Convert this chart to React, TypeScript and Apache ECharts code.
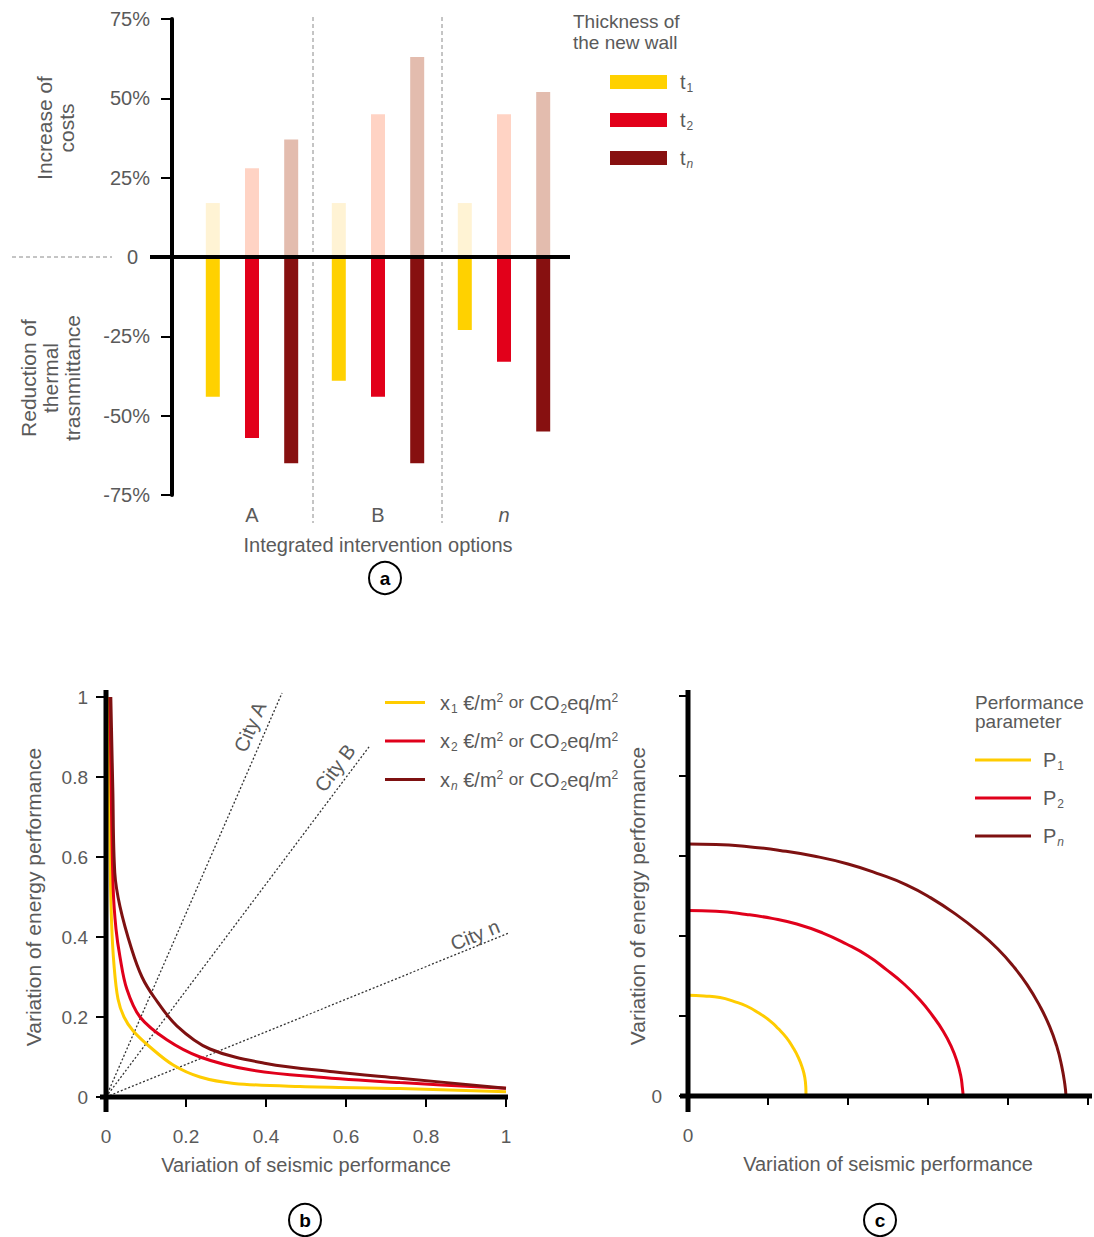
import React, { useEffect, useRef } from "react";
import * as echarts from "echarts";

// ---------- Panel a data ----------
const interventionOptions = ["A", "B", "n"];
const costT1 = [17, 17, 17];
const costT2 = [28, 45, 45];
const costTn = [37, 63, 52];
const transT1 = [-44, -39, -23];
const transT2 = [-57, -44, -33];
const transTn = [-65, -65, -55];
const pctTicks = [-75, -50, -25, 0, 25, 50, 75];

// ---------- Panel b data ----------
const curveX1 = [
  [0.006, 1], [0.008, 0.8], [0.01, 0.6], [0.014, 0.435], [0.02, 0.33], [0.03, 0.245],
  [0.045, 0.2], [0.068, 0.165], [0.11, 0.125], [0.168, 0.08], [0.235, 0.05],
  [0.32, 0.034], [0.485, 0.026], [0.735, 0.021], [1, 0.013],
];
const curveX2 = [
  [0.01, 1], [0.013, 0.77], [0.018, 0.52], [0.025, 0.42], [0.035, 0.35], [0.052, 0.27],
  [0.085, 0.2], [0.152, 0.143], [0.235, 0.1], [0.36, 0.068], [0.527, 0.05],
  [0.735, 0.036], [1, 0.022],
];
const curveXn = [
  [0.012, 1], [0.017, 0.77], [0.022, 0.56], [0.035, 0.476], [0.064, 0.37], [0.09, 0.3],
  [0.12, 0.25], [0.177, 0.178], [0.26, 0.12], [0.4, 0.084], [0.568, 0.063],
  [0.735, 0.047], [1, 0.022],
];
const cityA = [[0, 0], [0.44, 1.01]];
const cityB = [[0, 0], [0.658, 0.876]];
const cityN = [[0, 0], [1.014, 0.413]];
const cityLabelAnchors = [[0.36, 0.925], [0.5725, 0.8225], [0.9225, 0.405]];
const cityNames = ["City A", "City B", "City n"];

// ---------- Panel c data ----------
const perfP1 = [
  [0, 1.26], [0.2, 1.25], [0.4, 1.23], [0.58, 1.18], [0.73, 1.125], [0.88, 1.04],
  [1.025, 0.94], [1.13, 0.84], [1.23, 0.73], [1.31, 0.61], [1.38, 0.48], [1.43, 0.35],
  [1.46, 0.23], [1.473, 0.1], [1.475, 0],
];
const perfP2 = [
  [0, 2.32], [0.35, 2.31], [0.73, 2.27], [1.05, 2.22], [1.36, 2.15], [1.68, 2.04],
  [1.98, 1.9], [2.25, 1.75], [2.48, 1.58], [2.7, 1.4], [2.9, 1.2], [3.06, 1.0],
  [3.19, 0.81], [3.29, 0.62], [3.36, 0.44], [3.41, 0.25], [3.43, 0.1], [3.44, 0],
];
const perfPn = [
  [0, 3.15], [0.35, 3.145], [0.73, 3.12], [1.15, 3.07], [1.57, 3.0], [2.0, 2.9],
  [2.4, 2.77], [2.73, 2.64], [3.03, 2.48], [3.35, 2.27], [3.65, 2.04], [3.87, 1.84],
  [4.06, 1.63], [4.24, 1.39], [4.4, 1.12], [4.52, 0.87], [4.61, 0.62], [4.67, 0.38],
  [4.71, 0.15], [4.725, 0],
];

const FONT = "'Liberation Sans', Arial, Helvetica, sans-serif";
const GRAY = "#5a5a5a";
const YEL = "#FFD100";
const RED = "#E2001A";
const DARK = "#871010";
const YEL_L = "#FFF3D4";
const RED_L = "#FFD3C4";
const DARK_L = "#E3BCAE";

const subRich = {
  s: { fontSize: 12, padding: [12, 0, 0, 1], color: GRAY, fontFamily: FONT },
  si: { fontSize: 12, padding: [12, 0, 0, 1], color: GRAY, fontStyle: "italic", fontFamily: FONT },
  u: { fontSize: 12, padding: [0, 0, 9, 0], color: GRAY, fontFamily: FONT },
  o: { fontSize: 17, color: GRAY, fontFamily: FONT },
  i: { fontStyle: "italic", fontSize: 20, color: GRAY, fontFamily: FONT },
  z: { fontSize: 20, color: GRAY, fontFamily: FONT, padding: [0, 12, 0, 0] },
  g7: { width: 7 },
  g8: { width: 8 },
  g10: { width: 10 },
};

const legendALabel: Record<string, string> = {
  t1: "{g8|}t{s|1}",
  t2: "{g8|}t{s|2}",
  tn: "{g8|}t{si|n}",
};
const legendBLabel: Record<string, string> = {
  x1: "{g10|}x{s|1} €/m{u|2} {o|or} CO{s|2}eq/m{u|2}",
  x2: "{g10|}x{s|2} €/m{u|2} {o|or} CO{s|2}eq/m{u|2}",
  xn: "{g10|}x{si|n} €/m{u|2} {o|or} CO{s|2}eq/m{u|2}",
};
const legendCLabel: Record<string, string> = {
  P1: "{g7|}P{s|1}",
  P2: "{g7|}P{s|2}",
  Pn: "{g7|}P{si|n}",
};

function buildOption(): any {
  const barCommon = {
    type: "bar",
    xAxisIndex: 0,
    yAxisIndex: 0,
    barWidth: 14,
    barGap: "180%",
  };
  const lineB = (name: string, data: number[][], color: string) => ({
    type: "line",
    name,
    xAxisIndex: 1,
    yAxisIndex: 1,
    data,
    showSymbol: false,
    smooth: 0.35,
    color,
    lineStyle: { color, width: 3 },
    itemStyle: { color },
    z: 5,
  });
  const cityLine = (name: string, data: number[][]) => ({
    type: "line",
    name,
    xAxisIndex: 1,
    yAxisIndex: 1,
    data,
    showSymbol: false,
    clip: false,
    silent: true,
    lineStyle: { color: "#333", width: 1.3, type: [2, 2] },
    z: 3,
  });
  const lineC = (name: string, data: number[][], color: string) => ({
    type: "line",
    name,
    xAxisIndex: 2,
    yAxisIndex: 2,
    data,
    showSymbol: false,
    smooth: 0.5,
    color,
    lineStyle: { color, width: 3 },
    itemStyle: { color },
  });

  return {
    animation: false,
    textStyle: { fontFamily: FONT },
    grid: [
      { left: 189, top: 19, width: 378, height: 476 },
      { left: 106, top: 697, width: 400, height: 400 },
      { left: 688, top: 696, width: 400, height: 400 },
    ],
    xAxis: [
      {
        type: "category",
        gridIndex: 0,
        data: interventionOptions,
        axisLine: { show: false },
        axisTick: { show: false },
        axisLabel: {
          fontSize: 20,
          color: GRAY,
          margin: 10,
          formatter: (v: string) => (v === "n" ? "{i|n}" : v),
          rich: subRich,
        },
        name: "Integrated intervention options",
        nameLocation: "middle",
        nameGap: 40,
        nameTextStyle: { fontSize: 20, color: GRAY },
        splitLine: { show: false },
      },
      {
        type: "value",
        gridIndex: 1,
        min: 0,
        max: 1,
        interval: 0.2,
        axisLine: { show: false },
        axisTick: { show: true, length: 10, lineStyle: { color: "#000", width: 2 } },
        axisLabel: {
          fontSize: 19,
          color: GRAY,
          margin: 30,
          formatter: (v: number) => String(Math.round(v * 10) / 10),
        },
        splitLine: { show: false },
        name: "Variation of seismic performance",
        nameLocation: "middle",
        nameGap: 58,
        nameTextStyle: { fontSize: 20, color: GRAY },
      },
      {
        type: "value",
        gridIndex: 2,
        min: 0,
        max: 5,
        interval: 1,
        axisLine: { show: false },
        axisTick: { show: true, length: 9, lineStyle: { color: "#000", width: 2 } },
        axisLabel: {
          fontSize: 19,
          color: GRAY,
          margin: 30,
          formatter: (v: number) => (v === 0 ? "0" : ""),
        },
        splitLine: { show: false },
        name: "Variation of seismic performance",
        nameLocation: "middle",
        nameGap: 58,
        nameTextStyle: { fontSize: 20, color: GRAY },
      },
    ],
    yAxis: [
      {
        type: "value",
        gridIndex: 0,
        min: -75,
        max: 75,
        interval: 25,
        offset: 17,
        axisLine: { show: true, onZero: false, lineStyle: { color: "#000", width: 4 } },
        axisTick: { show: true, length: 11, lineStyle: { color: "#000", width: 2 } },
        axisLabel: {
          fontSize: 20,
          color: GRAY,
          margin: 22,
          rich: subRich,
          formatter: (v: number) => (pctTicks.includes(v) ? (v === 0 ? "{z|0}" : v + "%") : ""),
        },
        splitLine: { show: false },
      },
      {
        type: "value",
        gridIndex: 1,
        min: 0,
        max: 1,
        interval: 0.2,
        axisLine: { show: false },
        axisTick: { show: true, length: 10, lineStyle: { color: "#000", width: 2 } },
        axisLabel: {
          fontSize: 19,
          color: GRAY,
          margin: 18,
          formatter: (v: number) => String(Math.round(v * 10) / 10),
        },
        splitLine: { show: false },
        name: "Variation of energy performance",
        nameLocation: "middle",
        nameGap: 62,
        nameTextStyle: { fontSize: 21, color: GRAY },
      },
      {
        type: "value",
        gridIndex: 2,
        min: 0,
        max: 5,
        interval: 1,
        axisLine: { show: false },
        axisTick: { show: true, length: 9, lineStyle: { color: "#000", width: 2 } },
        axisLabel: {
          fontSize: 19,
          color: GRAY,
          margin: 26,
          formatter: (v: number) => (v === 0 ? "0" : ""),
        },
        splitLine: { show: false },
        name: "Variation of energy performance",
        nameLocation: "middle",
        nameGap: 28,
        nameTextStyle: { fontSize: 21, color: GRAY },
      },
    ],
    legend: [
      {
        data: ["t1", "t2", "tn"],
        orient: "vertical",
        left: 610,
        top: 72,
        padding: 0,
        icon: "rect",
        itemWidth: 57,
        itemHeight: 14,
        itemGap: 16,
        selectedMode: false,
        formatter: (n: string) => legendALabel[n],
        textStyle: { fontSize: 20, color: GRAY, rich: subRich },
      },
      {
        data: ["x1", "x2", "xn"],
        orient: "vertical",
        left: 385,
        top: 692,
        padding: 0,
        icon: "rect",
        itemWidth: 40,
        itemHeight: 3,
        itemGap: 16,
        selectedMode: false,
        formatter: (n: string) => legendBLabel[n],
        textStyle: { fontSize: 20, color: GRAY, rich: subRich },
      },
      {
        data: ["P1", "P2", "Pn"],
        orient: "vertical",
        left: 975,
        top: 750,
        padding: 0,
        icon: "rect",
        itemWidth: 56,
        itemHeight: 3,
        itemGap: 16,
        selectedMode: false,
        formatter: (n: string) => legendCLabel[n],
        textStyle: { fontSize: 20, color: GRAY, rich: subRich },
      },
    ],
    series: [
      { ...barCommon, name: "t1", stack: "s1", data: transT1, itemStyle: { color: YEL } },
      { ...barCommon, name: "t1 cost", stack: "s1", data: costT1, itemStyle: { color: YEL_L } },
      { ...barCommon, name: "t2", stack: "s2", data: transT2, itemStyle: { color: RED } },
      { ...barCommon, name: "t2 cost", stack: "s2", data: costT2, itemStyle: { color: RED_L } },
      { ...barCommon, name: "tn", stack: "s3", data: transTn, itemStyle: { color: DARK } },
      { ...barCommon, name: "tn cost", stack: "s3", data: costTn, itemStyle: { color: DARK_L } },
      cityLine("City A", cityA),
      cityLine("City B", cityB),
      cityLine("City n", cityN),
      lineB("x1", curveX1, "#FFCC00"),
      lineB("x2", curveX2, "#E0001B"),
      lineB("xn", curveXn, "#7E1111"),
      lineC("P1", perfP1, "#FFCC00"),
      lineC("P2", perfP2, "#E0001B"),
      lineC("Pn", perfPn, "#7E1111"),
    ],
  };
}

function circleLabel(cx: number, cy: number, letter: string) {
  return [
    {
      type: "circle",
      shape: { cx, cy, r: 16 },
      style: { fill: "#fff", stroke: "#000", lineWidth: 2 },
      z: 100,
    },
    {
      type: "text",
      x: cx,
      y: cy,
      style: {
        text: letter,
        fill: "#000",
        font: `bold 19px ${FONT}`,
        align: "center",
        verticalAlign: "middle",
      },
      z: 101,
    },
  ];
}

const App: React.FC = () => {
  const ref = useRef<HTMLDivElement>(null);
  useEffect(() => {
    if (!ref.current) return;
    const chart = echarts.init(ref.current, null, { renderer: "svg" });
    chart.setOption(buildOption());

    // ---- decorations derived from the axes ----
    const zeroY = chart.convertToPixel({ yAxisIndex: 0 }, 0) as number;
    const topA = chart.convertToPixel({ yAxisIndex: 0 }, 75) as number;
    const cA = chart.convertToPixel({ xAxisIndex: 0 }, "A") as number;
    const cB = chart.convertToPixel({ xAxisIndex: 0 }, "B") as number;
    const cN = chart.convertToPixel({ xAxisIndex: 0 }, "n") as number;
    const sep1 = (cA + cB) / 2 - 2;
    const sep2 = (cB + cN) / 2 + 1;
    const bandHalf = (cB - cA) / 2;

    const oB = chart.convertToPixel({ gridIndex: 1 }, [0, 0]) as number[];
    const eB = chart.convertToPixel({ gridIndex: 1 }, [1, 1]) as number[];
    const oC = chart.convertToPixel({ gridIndex: 2 }, [0, 0]) as number[];
    const eC = chart.convertToPixel({ gridIndex: 2 }, [5, 5]) as number[];

    const cityEnds = [cityA[1], cityB[1], cityN[1]];
    const cityTexts = cityNames.map((name, i) => {
      const p = chart.convertToPixel({ gridIndex: 1 }, cityLabelAnchors[i]) as number[];
      const e = chart.convertToPixel({ gridIndex: 1 }, cityEnds[i]) as number[];
      const ang = Math.atan2(oB[1] - e[1], e[0] - oB[0]);
      return {
        type: "text",
        x: p[0],
        y: p[1],
        rotation: ang,
        style: {
          text: name,
          fill: GRAY,
          font: `20px ${FONT}`,
          align: "center",
          verticalAlign: "middle",
        },
        z: 50,
      };
    });

    const axisLine = (x1: number, y1: number, x2: number, y2: number, w: number) => ({
      type: "line",
      shape: { x1, y1, x2, y2 },
      style: { stroke: "#000", lineWidth: w },
      z: 60,
    });
    const dashed = (x1: number, y1: number, x2: number, y2: number) => ({
      type: "line",
      shape: { x1, y1, x2, y2 },
      style: { stroke: "#8a8a8a", lineWidth: 1, lineDash: [4, 3] },
      z: 1,
    });

    chart.setOption({
      graphic: [
        // panel a
        axisLine(150, zeroY, cN + bandHalf + 3, zeroY, 4),
        dashed(12, zeroY, 112, zeroY),
        dashed(sep1, topA - 2, sep1, 523),
        dashed(sep2, topA - 2, sep2, 523),
        {
          type: "text",
          x: 55,
          y: 128,
          rotation: Math.PI / 2,
          style: {
            text: "Increase of\ncosts",
            fill: GRAY,
            font: `21px ${FONT}`,
            align: "center",
            verticalAlign: "middle",
            lineHeight: 22,
          },
        },
        {
          type: "text",
          x: 50,
          y: 378,
          rotation: Math.PI / 2,
          style: {
            text: "Reduction of\nthermal\ntrasnmittance",
            fill: GRAY,
            font: `21px ${FONT}`,
            align: "center",
            verticalAlign: "middle",
            lineHeight: 22,
          },
        },
        {
          type: "text",
          x: 573,
          y: 11,
          style: {
            text: "Thickness of\nthe new wall",
            fill: GRAY,
            font: `19px ${FONT}`,
            align: "left",
            verticalAlign: "top",
            lineHeight: 21,
          },
        },
        ...circleLabel(385, 578, "a"),
        // panel b
        axisLine(oB[0], eB[1] - 7, oB[0], oB[1] + 15, 5),
        axisLine(oB[0] - 6, oB[1], eB[0] + 2, oB[1], 5),
        ...cityTexts,
        ...circleLabel(305, 1220, "b"),
        // panel c
        axisLine(oC[0], eC[1] - 6, oC[0], oC[1] + 16, 5),
        axisLine(oC[0] - 8, oC[1], eC[0] + 4, oC[1], 5),
        {
          type: "text",
          x: 975,
          y: 693,
          style: {
            text: "Performance\nparameter",
            fill: GRAY,
            font: `19px ${FONT}`,
            align: "left",
            verticalAlign: "top",
            lineHeight: 19,
          },
        },
        ...circleLabel(880, 1220, "c"),
      ],
    });

    return () => chart.dispose();
  }, []);

  return (
    <div
      ref={ref}
      style={{ position: "fixed", left: 0, top: 0, width: 1094, height: 1237, background: "#fff" }}
    />
  );
};

export default App;
